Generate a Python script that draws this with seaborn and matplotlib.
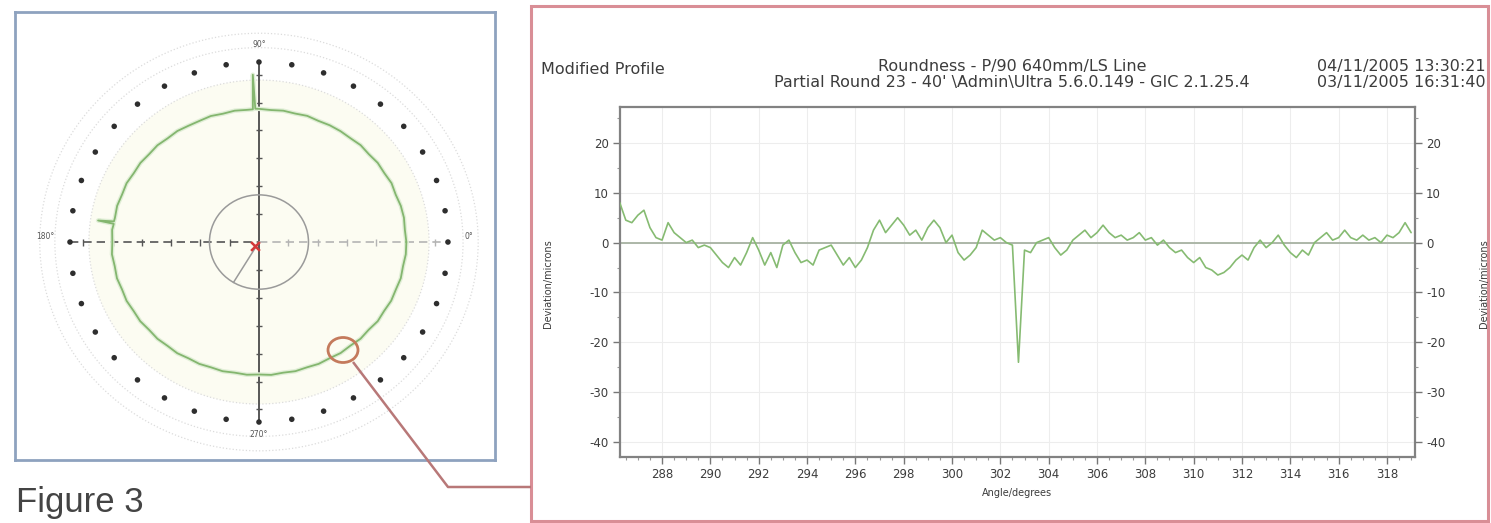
import numpy as np
import pandas as pd
import matplotlib
matplotlib.use("Agg")
import matplotlib.pyplot as plt
from matplotlib.patches import Rectangle, Ellipse, Circle
from matplotlib.ticker import MultipleLocator
import seaborn as sns

sns.set_theme(style="white")
plt.rcParams["font.family"] = ["DejaVu Sans"]
plt.rcParams["axes.unicode_minus"] = False

# ---------------------------------------------------------------- data
# Modified profile: deviation (um) every 0.25 degree from 286.25 degrees
profile_start_deg = 286.25
profile_step_deg = 0.25
profile_um = [
    8, 4.5, 4, 5.5, 6.5, 3, 1, 0.5, 4, 2, 1, 0, 0.5, -1, -0.5, -1,
    -2.5, -4, -5, -3, -4.5, -2, 1, -1.5, -4.5, -2, -5, -0.5, 0.5, -2,
    -4, -3.5, -4.5, -1.5, -1, -0.5, -2.5, -4.5, -3, -5, -3.5, -1, 2.5,
    4.5, 2, 3.5, 5, 3.5, 1.5, 2.5, 0.5, 3, 4.5, 3, 0, 1.5, -2, -3.5,
    -2.5, -1, 2.5, 1.5, 0.5, 1, 0, -0.5, -24, -1.5, -2, 0, 0.5, 1, -1,
    -2.5, -1.5, 0.5, 1.5, 2.5, 1, 2, 3.5, 2, 1, 1.5, 0.5, 1, 2, 0.5, 1,
    -0.5, 0.5, -1, -2, -1.5, -3, -4, -3, -5, -5.5, -6.5, -6, -5, -3.5,
    -2.5, -3.5, -1, 0.5, -1, 0, 1.5, -0.5, -2, -3, -1.5, -2.5, 0, 1, 2,
    0.5, 1, 2.5, 1, 0.5, 1.5, 0.5, 1, 0, 1.5, 1, 2, 4, 2,
]
profile_deg = profile_start_deg + profile_step_deg * np.arange(len(profile_um))

x_ticks = [288, 290, 292, 294, 296, 298, 300, 302, 304, 306, 308, 310,
           312, 314, 316, 318]
y_ticks = [20, 10, 0, -10, -20, -30, -40]

# Polar roundness trace: radius relative to the outer dot ring
ring_deg = [0, 5, 10, 15, 20, 25, 30, 35, 40, 45, 50, 55, 60, 65, 70, 75,
            80, 85, 90, 91.5, 92, 92.5, 95, 100, 105, 110, 115, 120, 125,
            130, 135, 140, 145, 150, 155, 160, 165, 170, 171.5, 172, 172.5,
            175, 180, 185, 190, 195, 200, 205, 210, 215, 220, 225, 230, 235,
            240, 245, 250, 255, 260, 265, 270, 275, 280, 285, 290, 295, 300,
            305, 310, 315, 320, 325, 330, 335, 340, 345, 350, 355, 360]
ring_r = [0.780, 0.775, 0.779, 0.777, 0.770, 0.774, 0.766, 0.767, 0.759,
          0.761, 0.753, 0.752, 0.749, 0.743, 0.746, 0.739, 0.741, 0.736,
          0.740, 0.741, 0.930, 0.738, 0.737, 0.741, 0.738, 0.745, 0.743,
          0.746, 0.753, 0.752, 0.760, 0.759, 0.766, 0.765, 0.773, 0.771,
          0.777, 0.774, 0.776, 0.860, 0.775, 0.780, 0.776, 0.781, 0.775,
          0.778, 0.771, 0.773, 0.766, 0.767, 0.759, 0.760, 0.753, 0.754,
          0.746, 0.747, 0.741, 0.743, 0.737, 0.740, 0.736, 0.741, 0.737,
          0.743, 0.741, 0.747, 0.746, 0.753, 0.752, 0.760, 0.758, 0.767,
          0.765, 0.772, 0.771, 0.777, 0.774, 0.780, 0.780]
dot_deg = np.arange(0, 360, 10)

# ---------------------------------------------------------------- figure
W, H = 1491, 523
fig = plt.figure(figsize=(W / 100, H / 100), dpi=100)
fig.patch.set_facecolor("white")


def px_axes(x0, y0, x1, y1, **kw):
    return fig.add_axes([x0 / W, 1 - y1 / H, (x1 - x0) / W, (y1 - y0) / H], **kw)


TXT = "#3c3c3c"

# ---------------------------------------------------------------- profile chart
ax = px_axes(620, 107, 1415, 457)
prof = pd.DataFrame({"deg": profile_deg, "um": profile_um})
ax.axhline(0, color="#a7b2a2", lw=1.3, zorder=1)
sns.lineplot(data=prof, x="deg", y="um", ax=ax, color="#86bb72", lw=1.2,
             sort=False, estimator=None, zorder=3)
ax.set_xlim(286.26, 319.16)
ax.set_ylim(-43, 27.2)
ax.set_xticks(x_ticks)
ax.set_xticklabels([str(t) for t in x_ticks])
ax.set_yticks(y_ticks)
ax.xaxis.set_minor_locator(MultipleLocator(0.5))
ax.yaxis.set_minor_locator(MultipleLocator(5))
ax.tick_params(which="major", direction="out", length=5, width=1,
               color="#777777", labelsize=8.5, labelcolor=TXT,
               left=True, bottom=True, pad=3)
ax.tick_params(which="minor", direction="out", length=2.5, width=0.8,
               color="#999999", left=True, bottom=True)
ax.grid(True, which="major", color="#ededed", lw=0.8)
for s in ax.spines.values():
    s.set_color("#828282")
    s.set_linewidth(1.6)
ax.set_xlabel("")
ax.set_ylabel("")

twin = ax.twinx()
twin.set_ylim(ax.get_ylim())
twin.set_yticks(y_ticks)
twin.yaxis.set_minor_locator(MultipleLocator(5))
twin.tick_params(which="major", direction="out", length=5, width=1,
                 color="#777777", labelsize=8.5, labelcolor=TXT, right=True, pad=3)
twin.tick_params(which="minor", direction="out", length=2.5, width=0.8,
                 color="#999999", right=True)
for s in twin.spines.values():
    s.set_visible(False)

# ---------------------------------------------------------------- polar view
pax = px_axes(15, 12, 495, 460)
pax.set_xlim(-1.291, 1.249)
pax.set_ylim(-1.211, 1.278)
pax.set_xticks([])
pax.set_yticks([])
pax.set_facecolor("white")
for s in pax.spines.values():
    s.set_color("#8ea2bf")
    s.set_linewidth(2)

pax.add_patch(Circle((0, 0), 0.9, fc="#fcfcf2", ec="none", zorder=0))
for rr in (0.9, 1.08, 1.16):
    pax.add_patch(Circle((0, 0), rr, fill=False, ec="#dcdcdc", ls=":",
                         lw=0.9, zorder=1))

# axes of the polar view
pax.plot([0, 0], [-0.99, 1.0], color="#4a4a4a", lw=1.3, zorder=2)
pax.plot([-1.0, 0], [0, 0], color="#555555", lw=1.2, ls=(0, (5, 3)), zorder=2)
pax.plot([0, 1.0], [0, 0], color="#b4b4b4", lw=1.2, ls=(0, (5, 3)), zorder=2)
tick_steps = np.arange(-6, 7) * 0.155
tick_steps = tick_steps[tick_steps != 0]
pax.scatter(np.zeros_like(tick_steps), tick_steps, marker="_", s=25,
            color="#555555", lw=1, zorder=2)
pax.scatter(tick_steps, np.zeros_like(tick_steps), marker="|", s=25,
            color=["#555555" if t < 0 else "#b4b4b4" for t in tick_steps],
            lw=1, zorder=2)

# reference circle and centre marks
pax.add_patch(Circle((0, 0), 0.262, fill=False, ec="#9a9a9a", lw=1.1, zorder=2))
a = np.deg2rad(239)
pax.plot([0, 0.262 * np.cos(a)], [0, 0.262 * np.sin(a)], color="#9a9a9a",
         lw=1.1, zorder=2)
pax.scatter([-0.02], [-0.02], marker="x", s=40, color="#d23a3a", lw=1.8, zorder=4)

# roundness trace
ring_t = np.deg2rad(ring_deg)
ring = pd.DataFrame({"x": np.array(ring_r) * np.cos(ring_t),
                     "y": np.array(ring_r) * np.sin(ring_t)})
sns.lineplot(data=ring, x="x", y="y", ax=pax, sort=False, estimator=None,
             color="#e0eed6", lw=3.2, zorder=3)
sns.lineplot(data=ring, x="x", y="y", ax=pax, sort=False, estimator=None,
             color="#84b66f", lw=1.3, zorder=3)

# outer angle dots
dt = np.deg2rad(dot_deg)
sns.scatterplot(x=np.cos(dt), y=np.sin(dt), ax=pax, s=16, color="#2e2e2e",
                edgecolor="none", zorder=4)
pax.set_xlabel("")
pax.set_ylabel("")
for lbl, (lx, ly) in {"90°": (0, 1.1), "0°": (1.11, 0.03),
                      "180°": (-1.13, 0.03), "270°": (0, -1.07)}.items():
    pax.text(lx, ly, lbl, fontsize=5.5, color="#555555", ha="center",
             va="center", zorder=5)

# ---------------------------------------------------------------- overlay: frames, callout, text
ov = fig.add_axes([0, 0, 1, 1], zorder=10)
ov.set_xlim(0, W)
ov.set_ylim(H, 0)
ov.axis("off")
ov.patch.set_alpha(0)

ov.add_patch(Rectangle((531, 6), 957, 515, fill=False, ec="#d98e96", lw=2.2))
ov.add_patch(Ellipse((343, 350), 30, 25, fill=False, ec="#c47a5c", lw=2))
ov.plot([353, 448, 531], [362, 487, 487], color="#b87878", lw=1.8,
        solid_capstyle="butt")

ov.text(16, 512, "Figure 3", fontsize=25, color="#444444",
        family=["Liberation Sans", "DejaVu Sans"], ha="left", va="baseline")

ov.text(541, 70, "Modified Profile", fontsize=11.5, color=TXT,
        ha="left", va="center")
ov.text(1012, 66, "Roundness - P/90 640mm/LS Line", fontsize=11.5,
        color=TXT, ha="center", va="center")
ov.text(1012, 82, "Partial Round 23 - 40' \\Admin\\Ultra 5.6.0.149 - GIC 2.1.25.4",
        fontsize=11.5, color=TXT, ha="center", va="center")
ov.text(1486, 66, "04/11/2005 13:30:21", fontsize=11.5, color=TXT,
        ha="right", va="center")
ov.text(1486, 82, "03/11/2005 16:31:40", fontsize=11.5, color=TXT,
        ha="right", va="center")
ov.text(1017, 493, "Angle/degrees", fontsize=7, color=TXT, ha="center",
        va="center")
ov.text(548, 284, "Deviation/microns", fontsize=7, color=TXT, rotation=90,
        ha="center", va="center")
ov.text(1484, 284, "Deviation/microns", fontsize=7, color=TXT, rotation=90,
        ha="center", va="center")

fig.savefig("out.png", dpi=100, facecolor="white")
